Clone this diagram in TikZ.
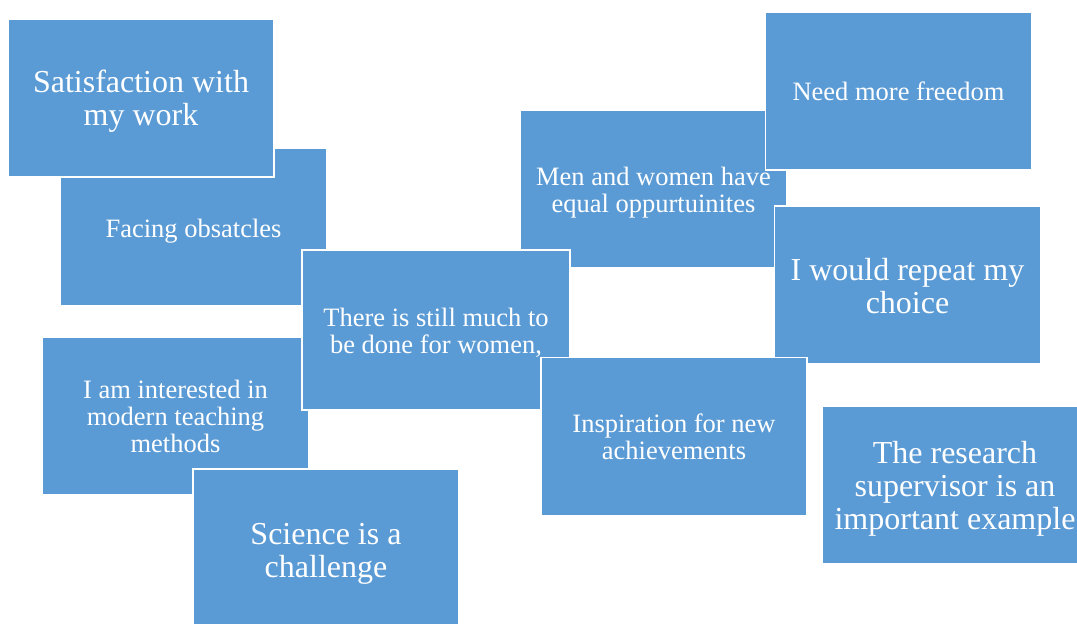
\documentclass[tikz,border=0pt]{standalone}
\usepackage{fontspec}
\setmainfont{Liberation Serif}
\definecolor{boxblue}{RGB}{91,155,213}
\tikzset{
  card/.style={rectangle, fill=boxblue, draw=white, line width=1.4pt,
    minimum width=266pt, minimum height=158pt, inner sep=0pt},
  cardtext/.style={align=center, text=white, inner sep=0pt},
  bigtxt/.style={cardtext, font=\fontsize{32}{33}\selectfont},
  smalltxt/.style={cardtext, font=\fontsize{26.5}{27}\selectfont}
}
\begin{document}
\begin{tikzpicture}[x=1pt,y=-1pt]
\useasboundingbox (0,0) rectangle (1077,624);
\clip (0,0) rectangle (1077,624);
\node[card] (facing) at (193.5,227) {};
\node[smalltxt] (facing-t) at ([yshift=-4pt]facing.center) {Facing obsatcles};
\node[card] (satis) at (141,98) {};
\node[bigtxt] (satis-t) at ([yshift=-3pt]satis.center) {Satisfaction with\\my work};
\node[card] (interest) at (175.5,416) {};
\node[smalltxt] (interest-t) at ([yshift=0pt]interest.center) {I am interested in\\modern teaching\\methods};
\node[card] (science) at (326,548) {};
\node[bigtxt] (science-t) at ([yshift=-6pt]science.center) {Science is a\\challenge};
\node[card] (men) at (653.5,189) {};
\node[smalltxt] (men-t) at ([yshift=-4pt]men.center) {Men and women have\\equal oppurtuinites};
\node[card,minimum width=268pt,minimum height=160pt] (still) at (436,330) {};
\node[smalltxt] (still-t) at ([yshift=-3pt]still.center) {There is still much to\\be done for women,};
\node[card] (freedom) at (898.5,91) {};
\node[smalltxt] (freedom-t) at ([yshift=0pt]freedom.center) {Need more freedom};
\node[card] (repeat) at (907.5,285) {};
\node[bigtxt] (repeat-t) at ([yshift=-1.5pt]repeat.center) {I would repeat my\\choice};
\node[card] (inspire) at (674,436.5) {};
\node[smalltxt] (inspire-t) at ([yshift=-0.5pt]inspire.center) {Inspiration for new\\achievements};
\node[card] (research) at (955,485) {};
\node[bigtxt] (research-t) at ([yshift=-4pt]research.center) {The research\\supervisor is an\\important example};
\end{tikzpicture}
\end{document}
